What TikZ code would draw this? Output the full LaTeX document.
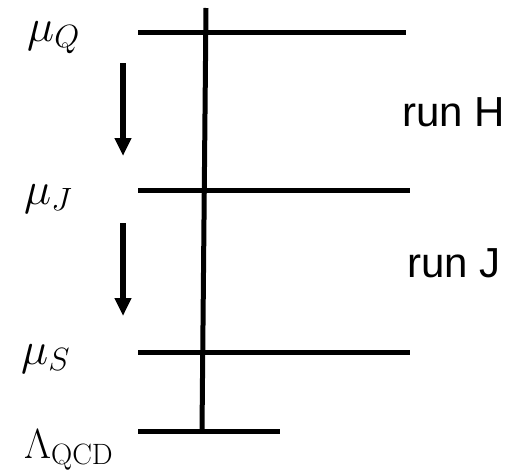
\RequirePackage{fix-cm}
\documentclass[tikz,border=0pt]{standalone}
\usepackage{fontspec}
\newfontfamily\runfont{Liberation Sans}
\usetikzlibrary{arrows.meta}
\tikzset{
  level/.style={line width=5pt},
  flow/.style={line width=6pt,-{Triangle[length=18pt,width=16pt]}},
  mlabel/.style={anchor=base west,inner sep=0pt,font=\fontsize{46}{50}\selectfont},
  rlabel/.style={anchor=base west,inner sep=0pt,font=\runfont\fontsize{42}{46}\selectfont},
}
\begin{document}
\begin{tikzpicture}[x=1pt,y=-1pt]
\useasboundingbox (0,0) rectangle (525,469);
% coordinates
\coordinate (vt) at (206,8);
\coordinate (vb) at (202,431);
\coordinate (q1) at (138,32);  \coordinate (q2) at (406,32);
\coordinate (j1) at (138,190); \coordinate (j2) at (410,190);
\coordinate (s1) at (138,352); \coordinate (s2) at (410,352);
\coordinate (l1) at (138,431); \coordinate (l2) at (280,431);
\coordinate (a1) at (123,63);  \coordinate (a2) at (123,156);
\coordinate (b1) at (123,223); \coordinate (b2) at (123,316);
% lines
\draw[level] (vt) -- (vb);
\draw[level] (q1) -- (q2);
\draw[level] (j1) -- (j2);
\draw[level] (s1) -- (s2);
\draw[level] (l1) -- (l2);
\draw[flow] (a1) -- (a2);
\draw[flow] (b1) -- (b2);
% labels
\node[mlabel] (muQ) at (27,41) {$\mu_Q$};
\node[mlabel] (muJ) at (24,204) {$\mu_J$};
\node[mlabel] (muS) at (21,364) {$\mu_S$};
\node[mlabel,font=\fontsize{42}{46}\selectfont] (lam) at (24,458) {$\Lambda_{\mathrm{QCD}}$};
\node[rlabel] (runH) at (402,126) {run H};
\node[rlabel] (runJ) at (407,277) {run J};
\end{tikzpicture}
\end{document}
